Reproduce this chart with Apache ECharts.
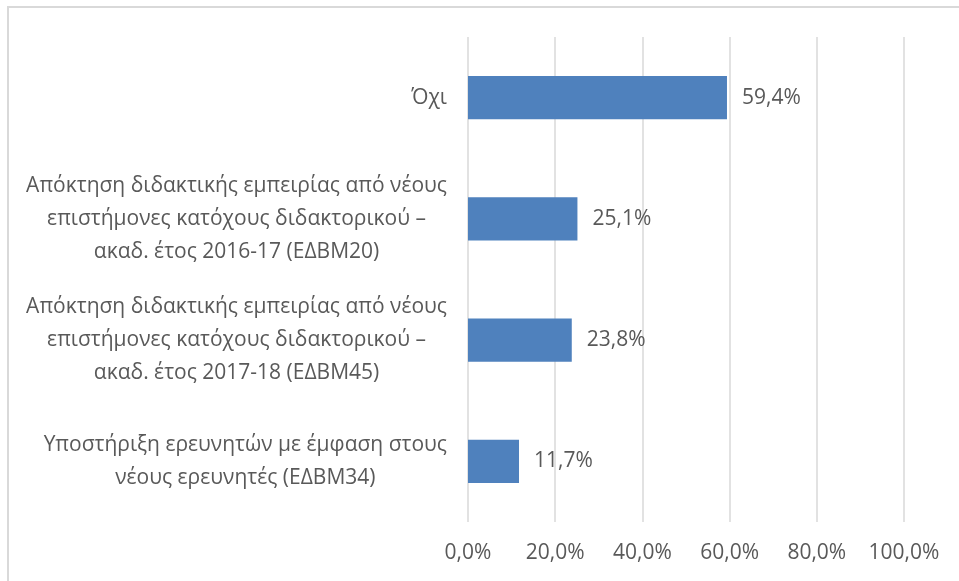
<!DOCTYPE html>
<html>
<head>
<meta charset="utf-8">
<script src="https://cdn.jsdelivr.net/npm/echarts@6/dist/echarts.min.js"></script>
<style>
  html, body { margin: 0; padding: 0; background: #fff; }
  #chart { width: 959px; height: 581px; }
</style>
</head>
<body>
<div id="chart"></div>
<script>
// categories top to bottom
const categories = [
  "Όχι",
  "Απόκτηση διδακτικής εμπειρίας από νέους\nεπιστήμονες κατόχους διδακτορικού –\nακαδ. έτος 2016-17 (ΕΔΒΜ20)",
  "Απόκτηση διδακτικής εμπειρίας από νέους\nεπιστήμονες κατόχους διδακτορικού –\nακαδ. έτος 2017-18 (ΕΔΒΜ45)",
  "Υποστήριξη ερευνητών με έμφαση στους\nνέους ερευνητές (ΕΔΒΜ34)"
];
const values = [59.4, 25.1, 23.8, 11.7];
const xTicks = [0, 20, 40, 60, 80, 100];

const FONT = "'Open Sans', 'Noto Sans', sans-serif";
const TEXT = "#595959";
const SIZE = 21;
const pct = (v) => v.toFixed(1).replace(".", ",") + "%";

const chart = echarts.init(document.getElementById("chart"), null, { renderer: "canvas" });

chart.setOption({
  animation: false,
  backgroundColor: "#fff",
  graphic: [
    {
      type: "rect",
      shape: { x: 8, y: 7, width: 1000, height: 1000 },
      style: { fill: "none", stroke: "#d9d9d9", lineWidth: 2 },
      silent: true
    }
  ],
  grid: { left: 468, right: 55, top: 37, bottom: 59, containLabel: false },
  xAxis: {
    type: "value",
    min: xTicks[0],
    max: xTicks[xTicks.length - 1],
    interval: xTicks[1] - xTicks[0],
    axisLine: { show: false },
    axisTick: { show: false },
    splitLine: { show: true, lineStyle: { color: "#d9d9d9", width: 1.5 } },
    axisLabel: {
      margin: 21,
      color: TEXT,
      fontFamily: FONT,
      fontSize: SIZE,
      formatter: (v) => pct(v)
    }
  },
  yAxis: {
    type: "category",
    inverse: true,
    data: categories,
    axisLine: { show: false },
    axisTick: { show: false },
    splitLine: { show: false },
    axisLabel: {
      interval: 0,
      margin: 21,
      color: TEXT,
      fontFamily: FONT,
      fontSize: SIZE,
      lineHeight: 33,
      formatter: (v) => v.split("\n").map((line) => "{c|" + line + "}").join("\n"),
      rich: {
        c: { align: "center", color: TEXT, fontFamily: FONT, fontSize: SIZE, lineHeight: 33 }
      }
    }
  },
  series: [
    {
      type: "bar",
      data: values,
      barCategoryGap: "64.5%",
      itemStyle: { color: "#4f81bd" },
      label: {
        show: true,
        position: "right",
        distance: 15,
        color: TEXT,
        fontFamily: FONT,
        fontSize: SIZE,
        formatter: (p) => pct(p.value)
      }
    }
  ]
});
</script>
</body>
</html>
